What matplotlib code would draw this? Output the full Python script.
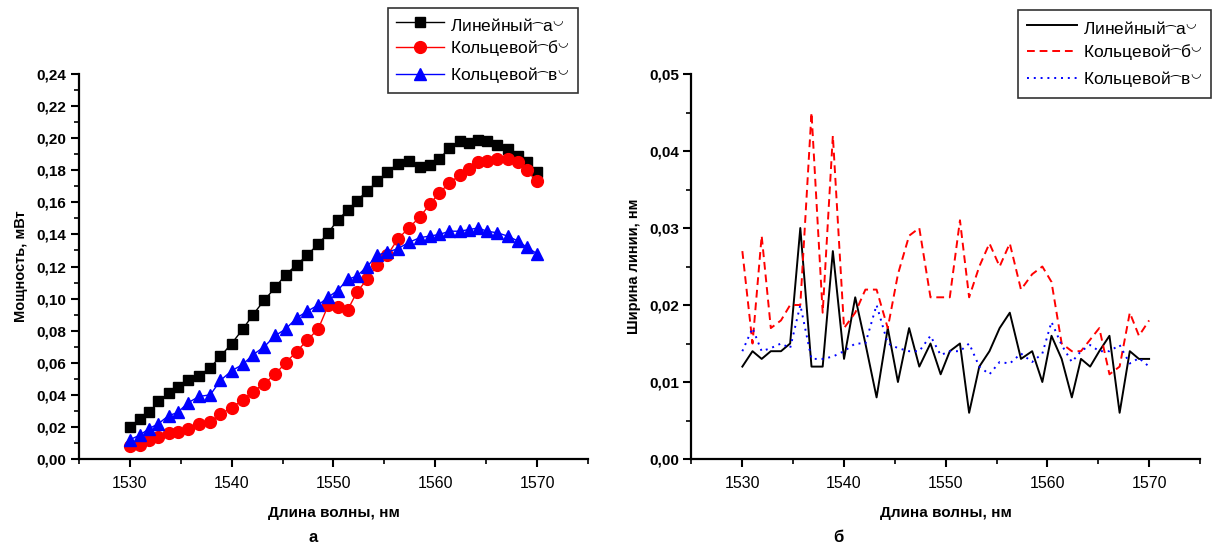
import matplotlib
matplotlib.use('Agg')
import matplotlib.pyplot as plt
from matplotlib import font_manager
from matplotlib.ft2font import FT2Font
from matplotlib.ticker import MultipleLocator, FuncFormatter

FONT = ['Liberation Sans', 'DejaVu Sans']


def has_glyphs(family, chars):
    try:
        path = font_manager.findfont(family, fallback_to_default=False)
    except Exception:
        return False
    cmap = FT2Font(path).get_charmap()
    return all(ord(c) in cmap for c in chars)


# the "(" ")" of the original legend came out as arcs: a low arch before the letter
# and a raised smile after it
if has_glyphs('DejaVu Sans', '⁀◡'):
    ARC_OPEN, ARC_CLOSE = r'$_{⁀}$', r'$^{◡}$'
else:
    ARC_OPEN, ARC_CLOSE = '⁀', '‿'
plt.rcParams['font.family'] = FONT
plt.rcParams['mathtext.fontset'] = 'dejavusans'

# measured wavelengths, nm (same grid for both panels)
wavelength = [1530.0, 1531.0, 1531.9, 1532.8, 1533.8, 1534.7, 1535.7, 1536.8, 1537.9, 1538.9,
              1540.0, 1541.1, 1542.1, 1543.2, 1544.3, 1545.3, 1546.4, 1547.4, 1548.5, 1549.5,
              1550.4, 1551.4, 1552.3, 1553.3, 1554.3, 1555.3, 1556.3, 1557.4, 1558.5, 1559.5,
              1560.4, 1561.4, 1562.4, 1563.3, 1564.2, 1565.1, 1566.1, 1567.1, 1568.1, 1569.0,
              1570.0]

# panel a: power, mW
power_lin = [0.020, 0.025, 0.029, 0.036, 0.041, 0.045, 0.049, 0.052, 0.057, 0.064,
             0.072, 0.081, 0.090, 0.099, 0.107, 0.115, 0.121, 0.127, 0.134, 0.141,
             0.149, 0.155, 0.161, 0.167, 0.173, 0.179, 0.184, 0.186, 0.182, 0.183,
             0.187, 0.194, 0.198, 0.197, 0.199, 0.198, 0.196, 0.193, 0.189, 0.185,
             0.179]
power_ring_b = [0.008, 0.009, 0.012, 0.014, 0.016, 0.017, 0.019, 0.022, 0.023, 0.028,
                0.032, 0.037, 0.042, 0.047, 0.053, 0.060, 0.067, 0.074, 0.081, 0.096,
                0.095, 0.093, 0.104, 0.112, 0.121, 0.127, 0.137, 0.144, 0.151, 0.159,
                0.166, 0.172, 0.177, 0.181, 0.185, 0.186, 0.187, 0.187, 0.185, 0.180,
                0.173]
power_ring_v = [0.012, 0.015, 0.019, 0.022, 0.027, 0.029, 0.035, 0.039, 0.040, 0.049,
                0.055, 0.059, 0.065, 0.070, 0.077, 0.081, 0.088, 0.092, 0.096, 0.101,
                0.105, 0.112, 0.114, 0.120, 0.127, 0.129, 0.131, 0.135, 0.138, 0.139,
                0.140, 0.142, 0.142, 0.143, 0.144, 0.142, 0.141, 0.139, 0.136, 0.132,
                0.128]

# panel b: linewidth, nm
width_lin = [0.012, 0.014, 0.013, 0.014, 0.014, 0.015, 0.030, 0.012, 0.012, 0.027,
             0.013, 0.021, 0.015, 0.008, 0.017, 0.010, 0.017, 0.012, 0.015, 0.011,
             0.014, 0.015, 0.006, 0.012, 0.014, 0.017, 0.019, 0.013, 0.014, 0.010,
             0.016, 0.013, 0.008, 0.013, 0.012, 0.014, 0.016, 0.006, 0.014, 0.013,
             0.013]
width_ring_b = [0.027, 0.015, 0.029, 0.017, 0.018, 0.020, 0.020, 0.045, 0.019, 0.042,
                0.017, 0.019, 0.022, 0.022, 0.017, 0.024, 0.029, 0.030, 0.021, 0.021,
                0.021, 0.031, 0.021, 0.025, 0.028, 0.025, 0.028, 0.022, 0.024, 0.025,
                0.023, 0.015, 0.014, 0.014, 0.0155, 0.017, 0.011, 0.012, 0.019, 0.016,
                0.018]
width_ring_v = [0.014, 0.017, 0.014, 0.0144, 0.015, 0.0144, 0.020, 0.013, 0.013, 0.0133,
                0.014, 0.015, 0.015, 0.020, 0.015, 0.0144, 0.014, 0.014, 0.016, 0.0135,
                0.014, 0.014, 0.015, 0.012, 0.011, 0.0126, 0.0124, 0.0137, 0.0126, 0.0137,
                0.0178, 0.0148, 0.0126, 0.014, 0.0148, 0.014, 0.014, 0.0148, 0.0124, 0.0131,
                0.012]

labels = ['Линейный' + ARC_OPEN + 'а' + ARC_CLOSE,
          'Кольцевой' + ARC_OPEN + 'б' + ARC_CLOSE,
          'Кольцевой' + ARC_OPEN + 'в' + ARC_CLOSE]

BOLD = dict(family=FONT, weight='bold')


def style_axes(ax, ymax, ymajor, yminor):
    ax.set_xlim(1525, 1575)
    ax.set_ylim(0, ymax)
    ax.xaxis.set_major_locator(MultipleLocator(10))
    ax.xaxis.set_minor_locator(MultipleLocator(5))
    ax.yaxis.set_major_locator(MultipleLocator(ymajor))
    ax.yaxis.set_minor_locator(MultipleLocator(yminor))
    ax.yaxis.set_major_formatter(FuncFormatter(lambda v, p: ('%.2f' % v).replace('.', ',')))
    for s in ['top', 'right']:
        ax.spines[s].set_visible(False)
    for s in ['left', 'bottom']:
        ax.spines[s].set_linewidth(1.6)
    ax.tick_params(which='major', direction='out', length=6, width=1.5, pad=3)
    ax.tick_params(which='minor', direction='out', length=3.5, width=1.2)
    ax.tick_params(axis='x', which='major', pad=6)
    for t in ax.get_yticklabels():
        t.set_fontsize(11)
        t.set_fontweight('bold')
    for t in ax.get_xticklabels():
        t.set_fontsize(11.5)
    ax.set_xlabel('Длина волны, нм', fontsize=11, labelpad=11, **BOLD)


def style_legend(leg):
    leg.get_frame().set_edgecolor('black')
    leg.get_frame().set_linewidth(1.2)


fig = plt.figure(figsize=(12.17, 5.45), dpi=100)

# ---- panel a ----
ax1 = fig.add_axes([0.0649, 0.1578, 0.4182, 0.7064])
ax1.plot(wavelength, power_lin, color='black', lw=1.0, marker='s', ms=7.5, label=labels[0])
ax1.plot(wavelength, power_ring_b, color='red', lw=1.0, marker='o', ms=8.5, label=labels[1])
ax1.plot(wavelength, power_ring_v, color='blue', lw=1.0, marker='^', ms=9, label=labels[2])
style_axes(ax1, 0.24, 0.02, 0.01)
ax1.set_ylabel('Мощность, мВт', fontsize=10.5, labelpad=6, **BOLD)
leg1 = ax1.legend(loc='upper left', bbox_to_anchor=(388 / 1217, 1 - 8 / 545),
                  bbox_transform=fig.transFigure, fontsize=12.5,
                  frameon=True, fancybox=False, handlelength=2.8, handletextpad=0.35,
                  labelspacing=0.4, borderpad=0.45, borderaxespad=0)
style_legend(leg1)

# ---- panel b ----
ax2 = fig.add_axes([0.5682, 0.1578, 0.4178, 0.7064])
ax2.plot(wavelength, width_lin, color='black', lw=1.4, ls='-', label=labels[0])
ax2.plot(wavelength, width_ring_b, color='red', lw=1.4, ls=(0, (4, 2.5)), label=labels[1])
ax2.plot(wavelength, width_ring_v, color='blue', lw=1.4, ls=(0, (1, 2.5)), label=labels[2])
style_axes(ax2, 0.05, 0.01, 0.005)
ax2.set_ylabel('Ширина линии, нм', fontsize=10.5, labelpad=6, **BOLD)
leg2 = ax2.legend(loc='upper left', bbox_to_anchor=(1018 / 1217, 1 - 10 / 545),
                  bbox_transform=fig.transFigure, fontsize=12.5,
                  frameon=True, fancybox=False, handlelength=2.9, handletextpad=0.35,
                  labelspacing=0.45, borderpad=0.5, borderaxespad=0)
style_legend(leg2)

# captions
fig.text(313 / 1217, 1 - 537 / 545, 'а', fontsize=12, ha='center', va='center', **BOLD)
fig.text(838 / 1217, 1 - 537 / 545, 'б', fontsize=12, ha='center', va='center', **BOLD)

fig.savefig('out.png', dpi=100)
